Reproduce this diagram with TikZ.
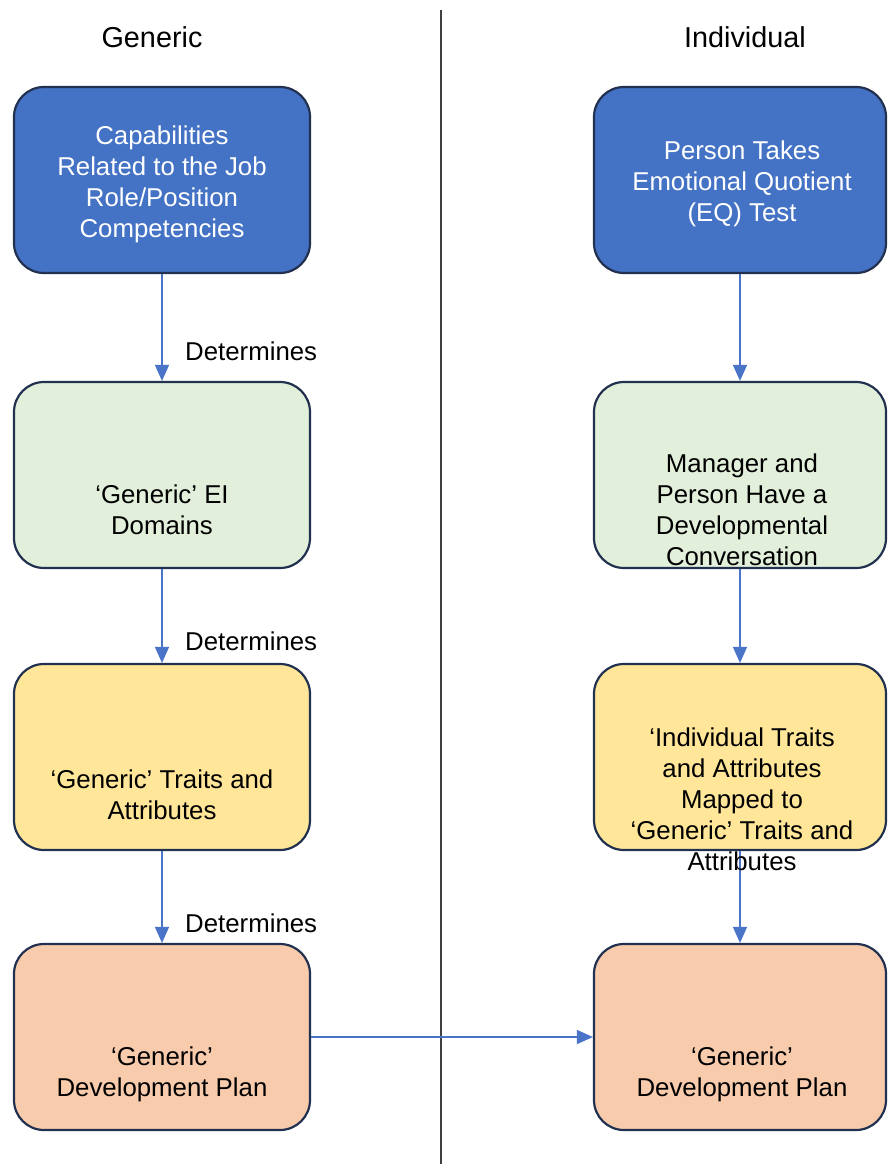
\documentclass[tikz,border=0pt]{standalone}
\usepackage{fontspec}
\setmainfont{Liberation Sans}
\usetikzlibrary{arrows.meta}
\definecolor{boxline}{HTML}{22314F}
\definecolor{blueF}{HTML}{4472C4}
\definecolor{greenF}{HTML}{E2EFDA}
\definecolor{yellowF}{HTML}{FFE699}
\definecolor{peachF}{HTML}{F8CBAD}
\definecolor{arrowC}{HTML}{4A74C8}
\definecolor{divC}{HTML}{404040}
\begin{document}
\begin{tikzpicture}[x=1pt,y=-1pt,
  stepbox/.style={draw=boxline,line width=2.2pt,rounded corners=30pt,
    minimum height=186pt,inner sep=0pt},
  leftbox/.style={stepbox,minimum width=296pt},
  rightbox/.style={stepbox,minimum width=292pt},
  txt/.style={align=center,inner sep=0pt,font=\fontsize{25.8}{31}\selectfont},
  head/.style={inner sep=0pt,font=\fontsize{28.8}{34}\selectfont},
  flow/.style={draw=arrowC,line width=1.4pt,-{Triangle[width=14pt,length=16pt]}},
  lbl/.style={anchor=west,inner sep=0pt,font=\fontsize{25.8}{31}\selectfont}]
\useasboundingbox (0,0) rectangle (888,1164);
\fill[white] (0,0) rectangle (888,1164);

% column divider
\coordinate (dtop) at (441,10);
\coordinate (dbot) at (441,1164);
\draw[divC,line width=1.3pt] (dtop) -- (dbot);

% headings
\node[head] (hgen) at (152,37) {Generic};
\node[head] (hind) at (745,37) {Individual};

% generic column
\node[leftbox,fill=blueF]   (g1) at (162,180)  {};
\node[leftbox,fill=greenF]  (g2) at (162,475)  {};
\node[leftbox,fill=yellowF] (g3) at (162,757)  {};
\node[leftbox,fill=peachF]  (g4) at (162,1037) {};
\node[txt,text=white] (g1t) at (162,184) {Capabilities\\Related to the Job\\Role/Position\\Competencies};
\node[txt] (g2t) at (162,510) {‘Generic’ EI\\Domains};
\node[txt] (g3t) at (162,795) {‘Generic’ Traits and\\Attributes};
\node[txt] (g4t) at (162,1074) {‘Generic’\\Development Plan};

% individual column
\node[rightbox,fill=blueF]   (i1) at (740,180)  {};
\node[rightbox,fill=greenF]  (i2) at (740,475)  {};
\node[rightbox,fill=yellowF] (i3) at (740,757)  {};
\node[rightbox,fill=peachF]  (i4) at (740,1037) {};
\node[txt,text=white] (i1t) at (742,184) {Person Takes\\Emotional Quotient\\(EQ) Test};
\node[txt] (i2t) at (742,510) {Manager and\\Person Have a\\Developmental\\Conversation};
\node[txt] (i4t) at (742,1074) {‘Generic’\\Development Plan};

% connectors
\draw[flow] (g1) -- (g2);
\draw[flow] (g2) -- (g3);
\draw[flow] (g3) -- (g4);
\draw[flow] (i1) -- (i2);
\draw[flow] (i2) -- (i3);
\draw[flow] (i3) -- (i4);
\draw[flow] (g4) -- (i4);

% text of the third individual step runs past its box
\node[txt] (i3t) at (742,799) {‘Individual Traits\\and Attributes\\Mapped to\\‘Generic’ Traits and\\Attributes};

% connector labels
\node[lbl] (d1) at (185,351) {Determines};
\node[lbl] (d2) at (185,641) {Determines};
\node[lbl] (d3) at (185,923) {Determines};
\end{tikzpicture}
\end{document}
